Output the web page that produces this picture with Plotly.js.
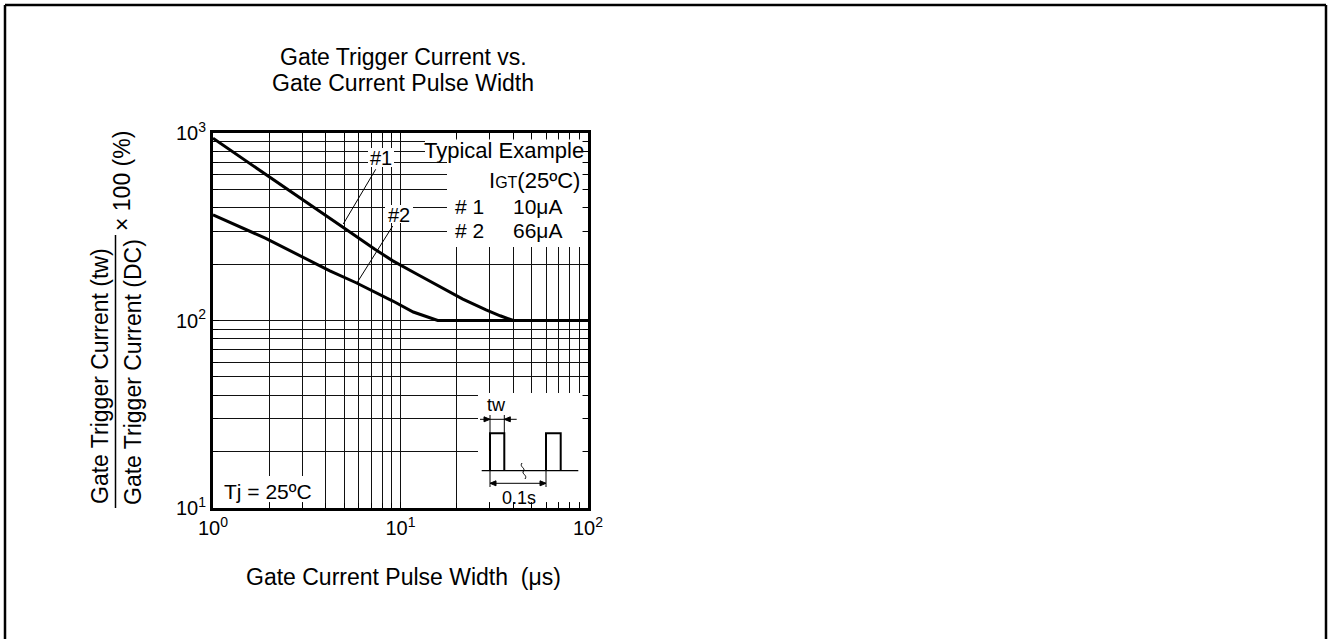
<!DOCTYPE html>
<html>
<head>
<meta charset="utf-8">
<script src="https://cdn.plot.ly/plotly-3.0.1.min.js"></script>
<style>
  html, body { margin: 0; padding: 0; background: #fff; }
  #chart { width: 1328px; height: 639px; }
</style>
</head>
<body>
<div id="chart"></div>
<script>
// ---- data ----
const pulseWidth1 = [1, 2, 3, 5, 7.3, 9.1, 12.2, 16.2, 21.5, 28.6, 34, 40, 100];
const ratio1      = [937, 580, 440, 311, 240, 208, 177, 151, 130, 114, 106, 100, 100];
const pulseWidth2 = [1, 1.9, 4.2, 5.8, 9.1, 11.7, 15.8, 100];
const ratio2      = [366, 275, 184, 159, 127, 111, 100, 100];

const majorTicks = [1, 10, 100];
const xTickText = ['10<sup>0</sup>', '10<sup>1</sup>', '10<sup>2</sup>'];
const yMajorTicks = [10, 100, 1000];
const yTickText = ['10<sup>1</sup>', '10<sup>2</sup>', '10<sup>3</sup>'];
const xMinor = [2,3,4,5,6,7,8,9,20,30,40,50,60,70,80,90];
const yMinor = [20,30,40,50,60,70,80,90,200,300,400,500,600,700,800,900];

const titleLines = ['Gate Trigger Current vs.', 'Gate Current Pulse Width'];
const xTitle = 'Gate Current Pulse Width\u00a0\u00a0(\u03bcs)';
const yNum = 'Gate Trigger Current (tw)';
const yDen = 'Gate Trigger Current (DC)';
const yFactor = '\u00d7 100 (%)';
const legendTitle = 'Typical Example';
const legendHead = 'I<span style="font-size:16px">GT</span>(25\u00baC)';
const seriesNames = ['# 1', '# 2'];
const seriesIgt = ['10\u03bcA', '66\u03bcA'];
const curveTags = ['#1', '#2'];
const condition = 'Tj = 25\u00baC';

// ---- geometry helpers (pixel -> paper fraction) ----
const W = 1328, H = 639;
const M = {l: 213, r: 740, t: 133, b: 131};
const PW = W - M.l - M.r, PH = H - M.t - M.b;
const fx = px => (px - M.l) / PW;
const fy = py => (H - M.b - py) / PH;

const FONT = '"Liberation Sans", Arial, Helvetica, sans-serif';
const BLK = '#000';

function line(x0, y0, x1, y1, w) {
  return {type: 'line', xref: 'paper', yref: 'paper', layer: 'above',
    x0: fx(x0), y0: fy(y0), x1: fx(x1), y1: fy(y1),
    line: {color: BLK, width: w || 1}};
}
function whiteRect(x0, y0, x1, y1) {
  return {type: 'rect', xref: 'paper', yref: 'paper', layer: 'above',
    x0: fx(x0), y0: fy(y0), x1: fx(x1), y1: fy(y1),
    fillcolor: '#fff', line: {width: 0}};
}
function pathPx(pts, closed, fill, w) {
  let d = pts.map((p, i) => (i ? 'L' : 'M') + fx(p[0]) + ',' + fy(p[1])).join(' ');
  if (closed) d += ' Z';
  return {type: 'path', xref: 'paper', yref: 'paper', layer: 'above', path: d,
    fillcolor: fill || 'rgba(0,0,0,0)', line: {color: BLK, width: w || 1}};
}
function ann(text, px, py, size, opts) {
  return Object.assign({xref: 'paper', yref: 'paper', x: fx(px), y: fy(py),
    text: text, showarrow: false, xanchor: 'center', yanchor: 'middle',
    font: {family: FONT, size: size, color: BLK}}, opts || {});
}

const traces = [
  {x: pulseWidth1, y: ratio1, type: 'scatter', mode: 'lines',
   line: {color: BLK, width: 3}, hoverinfo: 'skip'},
  {x: pulseWidth2, y: ratio2, type: 'scatter', mode: 'lines',
   line: {color: BLK, width: 3}, hoverinfo: 'skip'}
];

const GRID = '#111';
const axisCommon = {
  type: 'log', showgrid: true, gridcolor: GRID, gridwidth: 1,
  tickmode: 'array', ticks: 'inside', ticklen: 6, tickwidth: 1, tickcolor: BLK,
  showline: true, linewidth: 3, linecolor: BLK, mirror: 'ticks', zeroline: false,
  tickfont: {family: FONT, size: 20, color: BLK}, fixedrange: true
};
const minorCommon = {tickmode: 'array', showgrid: true, gridcolor: GRID, gridwidth: 1,
  ticks: 'inside', ticklen: 5, tickcolor: BLK, tickwidth: 1};

const shapes = [
  // white backgrounds behind text blocks (kept clear of the curves and the edge ticks)
  whiteRect(425, 139.5, 582.5, 160),
  whiteRect(447, 160, 582.5, 247),
  whiteRect(368, 148, 394, 167),
  whiteRect(385, 205, 413, 223),
  whiteRect(219, 476, 317, 502),
  whiteRect(478, 393, 582.5, 502),
  // leader lines
  line(375.7, 169.3, 343.3, 224, 1),
  line(392.7, 226, 357.3, 282.3, 1),
  // y title fraction bar
  line(115.5, 235, 115.5, 508, 1.5),
  // outer frame
  line(5, 5, 1326, 5, 2.5),
  line(5, 5, 5, 639, 2.5),
  line(1326, 5, 1326, 639, 2.5),
  // inset: tw dimension
  line(480, 419.3, 516.7, 419.3, 1),
  pathPx([[484, 416.8], [490, 419.3], [484, 421.8]], true, BLK, 1),
  pathPx([[510.3, 416.8], [504.3, 419.3], [510.3, 421.8]], true, BLK, 1),
  line(490, 415, 490, 433.3, 1),
  line(504.3, 415, 504.3, 433.3, 1),
  // pulses
  pathPx([[490, 470.7], [490, 433.3], [504.3, 433.3], [504.3, 470.7]], false, null, 2),
  pathPx([[546, 470.7], [546, 433.3], [560.7, 433.3], [560.7, 470.7]], false, null, 2),
  // baseline
  line(481.7, 470.7, 578.3, 470.7, 1.3),
  // break mark
  {type: 'path', xref: 'paper', yref: 'paper', layer: 'above',
   path: 'M' + fx(522) + ',' + fy(463) + ' C' + fx(519) + ',' + fy(467) + ' ' + fx(526) + ',' + fy(468) + ' ' + fx(523.5) + ',' + fy(471) +
         ' C' + fx(521) + ',' + fy(474) + ' ' + fx(528) + ',' + fy(475) + ' ' + fx(525) + ',' + fy(479),
   line: {color: BLK, width: 1}},
  // 0.1s dimension
  line(490, 470.7, 490, 487, 1),
  line(546, 470.7, 546, 487, 1),
  line(490, 483.3, 546, 483.3, 1),
  pathPx([[496, 480.8], [490, 483.3], [496, 485.8]], true, BLK, 1),
  pathPx([[540, 480.8], [546, 483.3], [540, 485.8]], true, BLK, 1)
];

const annotations = [
  ann(titleLines[0], 403.5, 57, 23),
  ann(titleLines[1], 402.5, 83, 23),
  ann(xTitle, 403.5, 577, 23),
  ann(yNum, 100, 376, 23, {textangle: -90}),
  ann(yDen, 133, 372, 23, {textangle: -90}),
  ann(yFactor, 121.5, 181.5, 23, {textangle: -90}),
  ann(legendTitle, 586, 150, 22, {xanchor: 'right'}),
  ann(legendHead, 582, 180, 22, {xanchor: 'right'}),
  ann(seriesNames[0], 453, 206, 21, {xanchor: 'left'}),
  ann(seriesIgt[0], 511, 206, 21, {xanchor: 'left'}),
  ann(seriesNames[1], 453, 230, 21, {xanchor: 'left'}),
  ann(seriesIgt[1], 511, 230, 21, {xanchor: 'left'}),
  ann(curveTags[0], 381, 158, 20),
  ann(curveTags[1], 399, 215, 20),
  ann(condition, 268, 491, 21),
  ann('tw', 496.7, 405, 18),
  ann('0.1s', 519.3, 498, 18)
];

const layout = {
  width: W, height: H,
  margin: M,
  paper_bgcolor: '#fff', plot_bgcolor: '#fff',
  showlegend: false,
  xaxis: Object.assign({}, axisCommon, {
    range: [0, 2], tickvals: majorTicks, ticktext: xTickText,
    minor: Object.assign({tickvals: xMinor}, minorCommon)
  }),
  yaxis: Object.assign({}, axisCommon, {
    range: [1, 3], tickvals: yMajorTicks, ticktext: yTickText,
    minor: Object.assign({tickvals: yMinor}, minorCommon)
  }),
  shapes: shapes,
  annotations: annotations
};

Plotly.newPlot('chart', traces, layout, {staticPlot: true, displayModeBar: false});
</script>
</body>
</html>
